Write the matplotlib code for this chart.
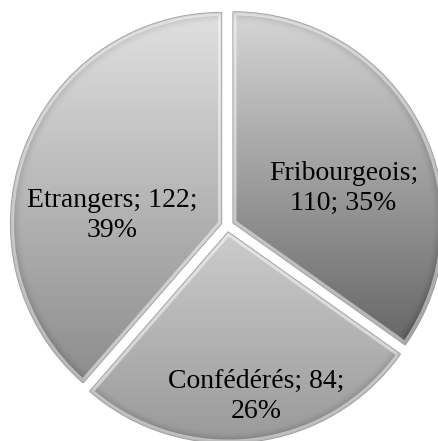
import numpy as np
import matplotlib.pyplot as plt
from matplotlib.patches import PathPatch

labels = ['Fribourgeois', 'Confédérés', 'Etrangers']
values = [110, 84, 122]
percents = [35, 26, 39]
# top / bottom gray of each slice gradient
top_grey = [0.84, 0.80, 0.88]
bottom_grey = [0.40, 0.60, 0.55]
label_pos = [(0.55, 0.175), (0.135, -0.81), (-0.545, 0.05)]

fig = plt.figure(figsize=(4.38, 4.41), dpi=100)
ax = fig.add_axes([0, 0, 1, 1])

wedges, _ = ax.pie(values, startangle=90, counterclock=False,
                   explode=[0.03] * 3, radius=1.0,
                   wedgeprops=dict(linewidth=0))
ax.set_xlim(-1.078, 0.998)
ax.set_ylim(-1.02, 1.07)
ax.set_aspect('equal')
ax.axis('off')

ny, nx = 600, 600
xs = np.linspace(-1.1, 1.1, nx)
ys = np.linspace(-1.1, 1.1, ny)
X, Y = np.meshgrid(xs, ys)

for w, t, b in zip(wedges, top_grey, bottom_grey):
    w.set_facecolor('none')
    cx, cy = w.center
    R = np.hypot(X - cx, Y - cy)
    path = w.get_patch_transform().transform_path(w.get_path())
    pts = path.interpolated(20).vertices
    y0, y1 = pts[:, 1].min(), pts[:, 1].max()
    f = np.clip((y1 - Y) / (y1 - y0), 0, 1)
    g = t + (b - t) * f
    # darker rim near outer arc
    g = g - 0.15 * np.clip((R - 0.94) / 0.06, 0, 1) ** 2
    g = np.clip(g, 0, 1)
    img = np.dstack([g, g, g])
    im = ax.imshow(img, extent=(-1.1, 1.1, -1.1, 1.1), origin='lower',
                   interpolation='bilinear', zorder=1)
    im.set_clip_path(w)
    # bevel: soft light line inside the edges, dark outline
    ax.add_patch(PathPatch(path, fill=False, edgecolor=(0.4, 0.4, 0.4),
                           lw=1.0, alpha=0.6, zorder=2))
    hl = PathPatch(path, fill=False, edgecolor='white', lw=5.0,
                   alpha=0.5, zorder=2)
    ax.add_patch(hl)
    hl.set_clip_path(w)

for lab, v, p, (lx, ly) in zip(labels, values, percents, label_pos):
    if lab == 'Fribourgeois':
        txt = f'{lab};\n{v}; {p}%'
    else:
        txt = f'{lab}; {v};\n{p}%'
    ax.text(lx, ly, txt, ha='center', va='center', fontsize=20,
            family='Liberation Serif', color='black', zorder=3,
            linespacing=1.25)

fig.savefig('out.png', dpi=100)
